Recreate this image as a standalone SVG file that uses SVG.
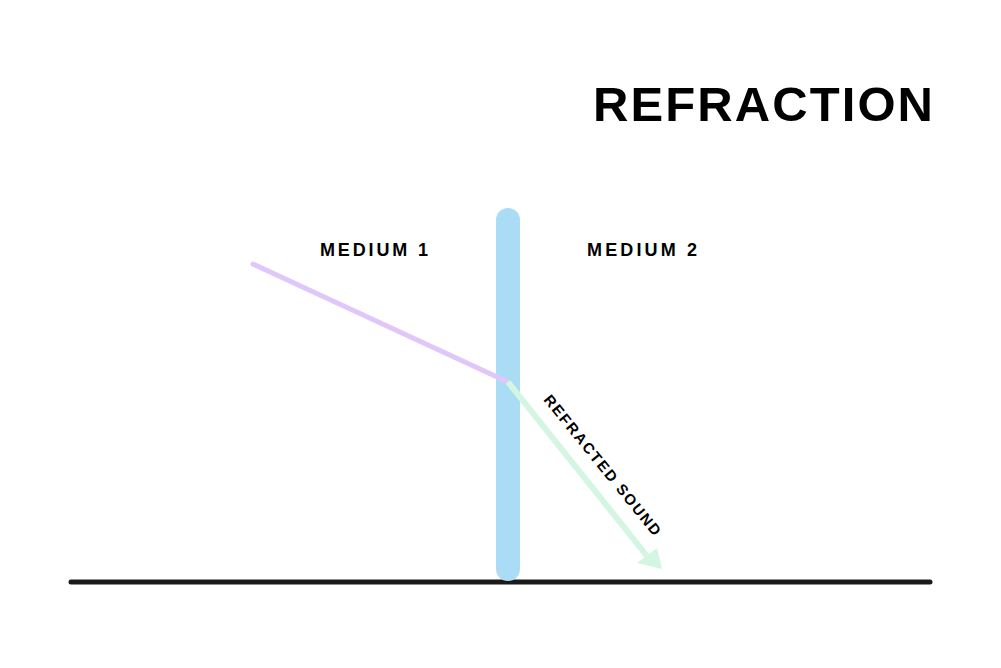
<svg xmlns="http://www.w3.org/2000/svg" width="1001" height="668" viewBox="0 0 1001 668">
<style>
.t{font-family:"Futura","Liberation Sans","DejaVu Sans",sans-serif;font-weight:bold;fill:#000}
</style>
<rect width="1001" height="668" fill="#fff"/>
<g id="title"><text class="t" x="593" y="121" font-size="49" textLength="340" lengthAdjust="spacing">REFRACTION</text></g>
<g id="medium1"><text class="t" x="320" y="256" font-size="18" textLength="108" lengthAdjust="spacing">MEDIUM 1</text></g>
<g id="medium2"><text class="t" x="587" y="256" font-size="18" textLength="110" lengthAdjust="spacing">MEDIUM 2</text></g>
<g id="ground"><line x1="71" y1="582" x2="930" y2="582" stroke="#1a1a1a" stroke-width="5" stroke-linecap="round"/></g>
<g id="boundary"><line x1="508" y1="220" x2="508" y2="569" stroke="#aadcf6" stroke-width="24" stroke-linecap="round"/></g>
<g id="connectors">
<line x1="253" y1="264" x2="508" y2="382" stroke="#e0c6f9" stroke-width="5" stroke-linecap="round"/>
<line x1="508" y1="382" x2="647" y2="556" stroke="#d4f5e2" stroke-width="6"/>
<polygon points="662,569 637,563 657,548" fill="#d4f5e2"/>
</g>
<g id="label"><text class="t" font-size="15" textLength="176" lengthAdjust="spacing" transform="translate(543,400) rotate(51)">REFRACTED SOUND</text></g>
</svg>
